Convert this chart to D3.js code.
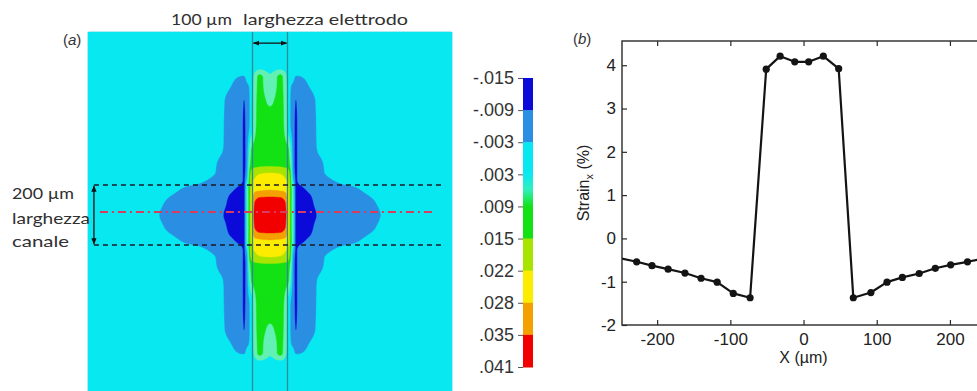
<!DOCTYPE html>
<html><head><meta charset="utf-8">
<script src="https://cdn.jsdelivr.net/npm/d3@7"></script>
<style>body{margin:0;background:#fff;}svg{display:block;}</style>
</head><body>
<svg id="c" width="977" height="391"></svg>
<script>
// ================= DATA =================
// Panel (a): strain field, one quadrant (x>=0, y>=0), mirrored (symmetric field). Units: µm
const mapXs = [0, 30, 45, 52, 60, 67, 74, 86, 110, 130, 150, 200, 260, 320, 400, 520];
const mapYs = [0, 40, 60, 80, 100, 120, 140, 170, 220, 300, 380, 430, 460, 490, 540, 610];
const strainQuadrant = [
 [.041,.040,.036,.026,.010,.002,-.011,-.013,-.013,-.0095,-.007,-.0062,-.005,-.0029,-.0012,-.0002],
 [.040,.039,.0345,.025,.010,.002,-.011,-.013,-.012,-.008,-.0065,-.006,-.0045,-.0025,-.001,-.0002],
 [.035,.0345,.031,.024,.0105,.002,-.011,-.0125,-.0105,-.0075,-.0065,-.0055,-.0038,-.0022,-.0009,-.0002],
 [.0285,.028,.027,.023,.0105,.002,-.011,-.0115,-.0085,-.007,-.006,-.005,-.0031,-.0016,-.0008,-.0002],
 [.026,.0255,.024,.022,.010,.001,-.0105,-.009,-.0065,-.0065,-.0055,-.0034,-.0024,-.0012,-.0006,-.0001],
 [.024,.0235,.022,.0205,.009,-.004,-.0100,-.006,-.0055,-.0055,-.0042,-.0022,-.0012,-.0009,-.0005,-.0001],
 [.022,.0215,.020,.018,.0075,-.0065,-.0100,-.006,-.0055,-.0045,-.0033,-.0015,-.0009,-.0007,-.0004,-.0001],
 [.0135,.013,.012,.0115,.005,-.0075,-.0100,-.006,-.0055,-.0038,-.0031,-.0012,-.0007,-.0005,-.0003,-.0001],
 [.012,.012,.0105,.0095,.002,-.0075,-.0100,-.006,-.0055,-.0032,-.0025,-.0008,-.0005,-.0004,-.0002,0],
 [.0115,.0115,.006,.000,-.004,-.0075,-.0100,-.006,-.0055,-.0032,-.0017,-.0006,-.0004,-.0003,-.0002,0],
 [.008,.011,.0055,.000,-.004,-.007,-.0092,-.0055,-.005,-.003,-.0012,-.0005,-.0003,-.0002,-.0001,0],
 [.005,.0105,.005,.000,-.003,-.004,-.006,-.0045,-.0031,-.0015,-.0008,-.0003,-.0002,-.0001,0,0],
 [.004,.0105,.004,.000,-.001,-.002,-.0035,-.0032,-.0022,-.0005,-.0003,-.0002,-.0001,0,0,0],
 [.001,.002,.001,.000,0,0,0,-.0005,-.0003,0,0,0,0,0,0,0],
 [.0003,.0005,.0003,0,0,0,0,0,0,0,0,0,0,0,0,0],
 [0,0,0,0,0,0,0,0,0,0,0,0,0,0,0,0]
];
const contourLevels = [-0.009, -0.003, 0.003, 0.009, 0.015, 0.022, 0.028, 0.035];
const bandColors = ["#0b0ad8", "#2a8fe2", "#08e8f0", "#62f0b4", "#12e214", "#a8e400", "#fcec00", "#f4a000", "#f20000"];
const colorbarLabels = ["-.015", "-.009", "-.003", ".003", ".009", ".015", ".022", ".028", ".035", ".041"];

// Panel (b): strain profile along the channel
const profileX = [-250, -228, -207, -185, -162, -140, -118, -96, -73, -51, -32, -12, 7, 27, 48, 68, 92, 114, 135, 158, 180, 201, 224, 250];
const profileStrain = [-0.46, -0.54, -0.63, -0.71, -0.80, -0.92, -1.01, -1.27, -1.37, 3.91, 4.21, 4.08, 4.08, 4.21, 3.92, -1.37, -1.25, -1.01, -0.90, -0.81, -0.69, -0.61, -0.54, -0.45];
const xTickValues = [-200, -100, 0, 100, 200];
const yTickValues = [-2, -1, 0, 1, 2, 3, 4];

// ================= DRAW =================
const svg = d3.select("#c");
const defs = svg.append("defs");
const ink = "#2a2a2a";

// ---------- Panel (a) ----------
const mapX = d3.scaleLinear().domain([-520, 520]).range([88, 452]);
const mapY = d3.scaleLinear().domain([-610, 610]).range([32, 398]);
const color = d3.scaleThreshold().domain(contourLevels).range(bandColors);

// shape-preserving (pchip) resampling of the value table onto the pixel grid
function pchipSlopes(xs, ys) {
  const n = xs.length, h = [], d = [], m = new Array(n);
  for (let k = 0; k < n - 1; k++) { h[k] = xs[k + 1] - xs[k]; d[k] = (ys[k + 1] - ys[k]) / h[k]; }
  m[0] = d[0]; m[n - 1] = d[n - 2];
  for (let k = 1; k < n - 1; k++) {
    if (d[k - 1] * d[k] <= 0) m[k] = 0;
    else { const w1 = 2 * h[k] + h[k - 1], w2 = h[k] + 2 * h[k - 1]; m[k] = (w1 + w2) / (w1 / d[k - 1] + w2 / d[k]); }
  }
  return m;
}
function pchipEval(xs, ys, m, x) {
  const k = Math.max(0, Math.min(xs.length - 2, d3.bisectRight(xs, x) - 1));
  const h = xs[k + 1] - xs[k], t = Math.max(0, Math.min(1, (x - xs[k]) / h));
  const t2 = t * t, t3 = t2 * t;
  return (2 * t3 - 3 * t2 + 1) * ys[k] + (t3 - 2 * t2 + t) * h * m[k] + (-2 * t3 + 3 * t2) * ys[k + 1] + (t3 - t2) * h * m[k + 1];
}
const mirror = a => [...a.slice(1).reverse(), ...a];
const fullXs = [...mapXs.slice(1).map(v => -v).reverse(), ...mapXs];
const fullYs = [...mapYs.slice(1).map(v => -v).reverse(), ...mapYs];
const fullRows = mirror(strainQuadrant.map(mirror));

const x0 = mapX.range()[0], y0 = mapY.range()[0];
const W = Math.round(mapX.range()[1] - x0), H = Math.round(mapY.range()[1] - y0);
const fineX = d3.range(W).map(i => mapX.invert(x0 + i + 0.5));
const fineY = d3.range(H).map(j => mapY.invert(y0 + j + 0.5));
const rowsFine = fullRows.map(r => { const m = pchipSlopes(fullXs, r); return fineX.map(x => pchipEval(fullXs, r, m, x)); });
const field = new Float64Array(W * H);
for (let i = 0; i < W; i++) {
  const col = rowsFine.map(r => r[i]);
  const m = pchipSlopes(fullYs, col);
  for (let j = 0; j < H; j++) field[j * W + i] = pchipEval(fullYs, col, m, fineY[j]);
}
const bands = d3.contours().size([W, H]).thresholds(contourLevels)(field);
const gMap = svg.append("g");
gMap.append("rect").attr("x", x0).attr("y", y0).attr("width", W).attr("height", H).attr("fill", bandColors[0]);
gMap.append("g").attr("transform", `translate(${x0},${y0})`)
  .selectAll("path").data(bands).join("path")
  .attr("d", d3.geoPath()).attr("fill", d => color(d.value))
  .attr("stroke", d => color(d.value)).attr("stroke-width", 0.4);

// electrode edges
const electrodeHalf = 50, channelHalf = 100;
gMap.selectAll("line.el").data([-electrodeHalf, electrodeHalf]).join("line")
  .attr("x1", d => mapX(d)).attr("x2", d => mapX(d))
  .attr("y1", mapY(-610)).attr("y2", mapY(610))
  .attr("stroke", "#2c8c94").attr("stroke-width", 1.3);

// channel dashed lines
gMap.selectAll("line.ch").data([-channelHalf, channelHalf]).join("line")
  .attr("x1", mapX(-503)).attr("x2", mapX(500))
  .attr("y1", d => mapY(d)).attr("y2", d => mapY(d))
  .attr("stroke", "#1a1a2a").attr("stroke-width", 1.3).attr("stroke-dasharray", "5,4");
// profile dash-dot line
gMap.append("line").attr("x1", mapX(-486)).attr("x2", mapX(466))
  .attr("y1", mapY(-10)).attr("y2", mapY(-10))
  .attr("stroke", "#d93c5c").attr("stroke-width", 2).attr("stroke-dasharray", "8,4,2,4");

// arrow markers
defs.append("marker").attr("id", "ah").attr("viewBox", "0 0 10 10").attr("refX", 9).attr("refY", 5)
  .attr("markerWidth", 5).attr("markerHeight", 5).attr("orient", "auto-start-reverse")
  .append("path").attr("d", "M0,1 L10,5 L0,9 z").attr("fill", "#111");
svg.append("line").attr("x1", mapX(-electrodeHalf) + 1).attr("x2", mapX(electrodeHalf) - 1)
  .attr("y1", mapY(-573)).attr("y2", mapY(-573))
  .attr("stroke", "#111").attr("stroke-width", 1.3)
  .attr("marker-start", "url(#ah)").attr("marker-end", "url(#ah)");
svg.append("line").attr("x1", mapX(-503)).attr("x2", mapX(-503))
  .attr("y1", mapY(-channelHalf) + 1).attr("y2", mapY(channelHalf) - 1)
  .attr("stroke", "#111").attr("stroke-width", 1.3)
  .attr("marker-start", "url(#ah)").attr("marker-end", "url(#ah)");

// annotation texts
const annoFont = "Lato, 'Open Sans', sans-serif";
function annot(x, y, str, len) {
  svg.append("text").attr("x", x).attr("y", y).attr("font-family", annoFont).attr("font-size", 16)
    .attr("fill", "#303030").attr("textLength", len).attr("lengthAdjust", "spacingAndGlyphs").text(str);
}
annot(171, 25, "100 µm", 61);
annot(243, 25, "larghezza elettrodo", 165);
annot(12, 199, "200 µm", 62);
annot(12, 224, "larghezza", 78);
annot(12, 247, "canale", 57);

const pa = svg.append("text").attr("x", 63).attr("y", 45).attr("font-family", "'Liberation Sans', Arial, sans-serif")
  .attr("font-size", 15).attr("fill", "#333");
pa.append("tspan").text("(");
pa.append("tspan").attr("font-style", "italic").text("a");
pa.append("tspan").text(")");

// colorbar
const cbY = d3.scaleLinear().domain([0, colorbarLabels.length - 1]).range([78, 367]);
const cbX = 523, cbW = 10;
const grad = defs.append("linearGradient").attr("id", "sg").attr("x1", 0).attr("x2", 0).attr("y1", 0).attr("y2", 1);
grad.append("stop").attr("offset", "0%").attr("stop-color", bandColors[2]);
grad.append("stop").attr("offset", "45%").attr("stop-color", "#30f0c0");
grad.append("stop").attr("offset", "100%").attr("stop-color", bandColors[4]);
svg.append("g").selectAll("rect").data(bandColors).join("rect")
  .attr("x", cbX).attr("width", cbW)
  .attr("y", (d, i) => cbY(i)).attr("height", (d, i) => cbY(i + 1) - cbY(i) + 0.5)
  .attr("fill", (d, i) => i === 3 ? "url(#sg)" : d);
const cbAxis = d3.axisLeft(cbY).tickValues(d3.range(colorbarLabels.length))
  .tickFormat(i => colorbarLabels[i]).tickSize(5).tickPadding(4);
const gcb = svg.append("g").attr("transform", `translate(${cbX},0)`).call(cbAxis);
gcb.select(".domain").remove();
gcb.selectAll(".tick line").attr("stroke", "#555");
gcb.selectAll(".tick text").attr("font-family", "'Liberation Sans', Arial, sans-serif")
  .attr("font-size", 18).attr("fill", "#333");

// ---------- Panel (b) ----------
const px = d3.scaleLinear().domain([-248, 252]).range([622, 988]);
const py = d3.scaleLinear().domain([-2, 4.56]).range([325, 41]);
const gB = svg.append("g");
const axFont = "'Liberation Sans', Arial, sans-serif";

defs.append("clipPath").attr("id", "clipB").append("rect")
  .attr("x", px.range()[0]).attr("y", py.range()[1])
  .attr("width", px.range()[1] - px.range()[0]).attr("height", py.range()[0] - py.range()[1]);

const profile = profileX.map((x, i) => ({ x, y: profileStrain[i] }));
const pg = gB.append("g").attr("clip-path", "url(#clipB)");
pg.append("path").datum(profile)
  .attr("d", d3.line().x(d => px(d.x)).y(d => py(d.y)))
  .attr("fill", "none").attr("stroke", "#141414").attr("stroke-width", 2.2).attr("stroke-linejoin", "round");
pg.selectAll("circle").data(profile.filter(d => d.x > px.domain()[0] && d.x < px.domain()[1])).join("circle")
  .attr("cx", d => px(d.x)).attr("cy", d => py(d.y)).attr("r", 3.6).attr("fill", "#141414");

// frame
gB.append("rect").attr("x", px.range()[0]).attr("y", py.range()[1])
  .attr("width", px.range()[1] - px.range()[0]).attr("height", py.range()[0] - py.range()[1])
  .attr("fill", "none").attr("stroke", ink).attr("stroke-width", 1.4);

const numFmt = d => String(d);
function styleAxis(g) {
  g.select(".domain").remove();
  g.selectAll(".tick line").attr("stroke", ink).attr("stroke-width", 1.2);
  g.selectAll(".tick text").attr("font-family", axFont).attr("font-size", 17).attr("fill", "#222");
}
gB.append("g").attr("transform", `translate(0,${py.range()[0]})`)
  .call(d3.axisBottom(px).tickValues(xTickValues).tickFormat(numFmt).tickSizeInner(-5).tickSizeOuter(0).tickPadding(8)).call(styleAxis);
gB.append("g").attr("transform", `translate(0,${py.range()[1]})`)
  .call(d3.axisTop(px).tickValues(xTickValues).tickSizeInner(-5).tickSizeOuter(0).tickFormat("")).call(styleAxis);
gB.append("g").attr("transform", `translate(${px.range()[0]},0)`)
  .call(d3.axisLeft(py).tickValues(yTickValues).tickFormat(numFmt).tickSizeInner(-5).tickSizeOuter(0).tickPadding(6)).call(styleAxis);

// axis labels
gB.append("text").attr("x", px(0)).attr("y", 363).attr("text-anchor", "middle")
  .attr("font-family", axFont).attr("font-size", 16).attr("fill", "#222").text("X (µm)");
const yl = gB.append("text").attr("transform", `translate(589,${(py.range()[0] + py.range()[1]) / 2}) rotate(-90)`)
  .attr("text-anchor", "middle").attr("font-family", axFont).attr("font-size", 16).attr("fill", "#222");
yl.append("tspan").text("Strain");
yl.append("tspan").attr("font-size", 11).attr("dy", 4).text("x");
yl.append("tspan").attr("dy", -4).text(" (%)");

const pb = svg.append("text").attr("x", 573).attr("y", 44).attr("font-family", axFont)
  .attr("font-size", 15).attr("fill", "#333");
pb.append("tspan").text("(");
pb.append("tspan").attr("font-style", "italic").text("b");
pb.append("tspan").text(")");
</script>
</body></html>
